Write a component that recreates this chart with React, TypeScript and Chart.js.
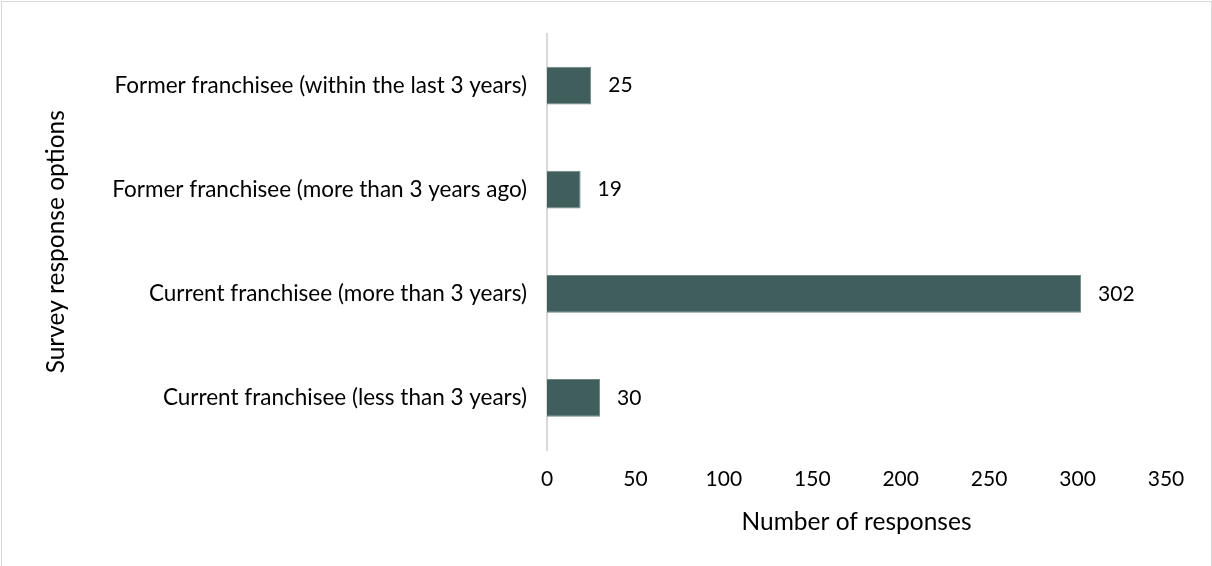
import React, { useEffect, useRef } from "react";
import { Chart, registerables } from "chart.js";

Chart.register(...registerables);

const categories = [
  "Former franchisee (within the last 3 years)",
  "Former franchisee (more than 3 years ago)",
  "Current franchisee (more than 3 years)",
  "Current franchisee (less than 3 years)",
];
const responses = [25, 19, 302, 30];
const xTicks = [0, 50, 100, 150, 200, 250, 300, 350];

const FONT = "Lato";
const BAR_COLOR = "#3f5e5c";

const valueLabels = {
  id: "valueLabels",
  afterDatasetsDraw(chart: any) {
    const ctx = chart.ctx;
    const meta = chart.getDatasetMeta(0);
    ctx.save();
    ctx.font = `21px ${FONT}`;
    ctx.fillStyle = "#000";
    ctx.textAlign = "left";
    ctx.textBaseline = "middle";
    meta.data.forEach((el: any, i: number) => {
      ctx.fillText(String(responses[i]), el.x + 17, el.y);
    });
    ctx.restore();
  },
};

export default function App() {
  const ref = useRef<HTMLCanvasElement>(null);
  useEffect(() => {
    document.body.style.margin = "0";
    const chart = new Chart(ref.current!, {
      type: "bar",
      data: {
        labels: categories,
        datasets: [
          {
            data: responses,
            backgroundColor: BAR_COLOR,
            borderColor: "#6f8785",
            borderWidth: 1,
            categoryPercentage: 1,
            barPercentage: 0.362,
          },
        ],
      },
      options: {
        indexAxis: "y",
        animation: false,
        responsive: false,
        maintainAspectRatio: false,
        layout: { padding: { left: 0, right: 46, top: 30, bottom: 0 } },
        plugins: { legend: { display: false }, tooltip: { enabled: false } },
        scales: {
          x: {
            min: 0,
            max: 350,
            afterBuildTicks: (axis: any) => {
              axis.ticks = xTicks.map((v) => ({ value: v }));
            },
            afterFit: (axis: any) => {
              axis.height = 116;
            },
            grid: { display: false, drawTicks: false },
            border: { display: false },
            ticks: {
              color: "#000",
              font: { family: FONT, size: 21 },
              padding: 17,
              maxRotation: 0,
            },
            title: {
              display: true,
              text: "Number of responses",
              color: "#000",
              font: { family: FONT, size: 24.5 },
              padding: { top: 0, bottom: 29 },
            },
          },
          y: {
            afterFit: (axis: any) => {
              axis.width = 547;
            },
            grid: { display: false, drawTicks: false },
            border: { display: true, color: "#d9d9d9", width: 2 },
            ticks: {
              color: "#000",
              font: { family: FONT, size: 22.5 },
              padding: 20,
            },
            title: {
              display: true,
              text: "Survey response options",
              color: "#000",
              font: { family: FONT, size: 24.5 },
              padding: { top: 41, bottom: 0 },
            },
          },
        },
      },
      plugins: [valueLabels],
    });
    return () => chart.destroy();
  }, []);
  return (
    <div style={{ position: "relative", width: 1212, height: 566 }}>
      <canvas ref={ref} width={1212} height={566} style={{ display: "block" }} />
      <div
        style={{
          position: "absolute",
          left: 1,
          top: 1,
          width: 1209,
          height: 570,
          border: "1px solid #d9d9d9",
          pointerEvents: "none",
        }}
      />
    </div>
  );
}
